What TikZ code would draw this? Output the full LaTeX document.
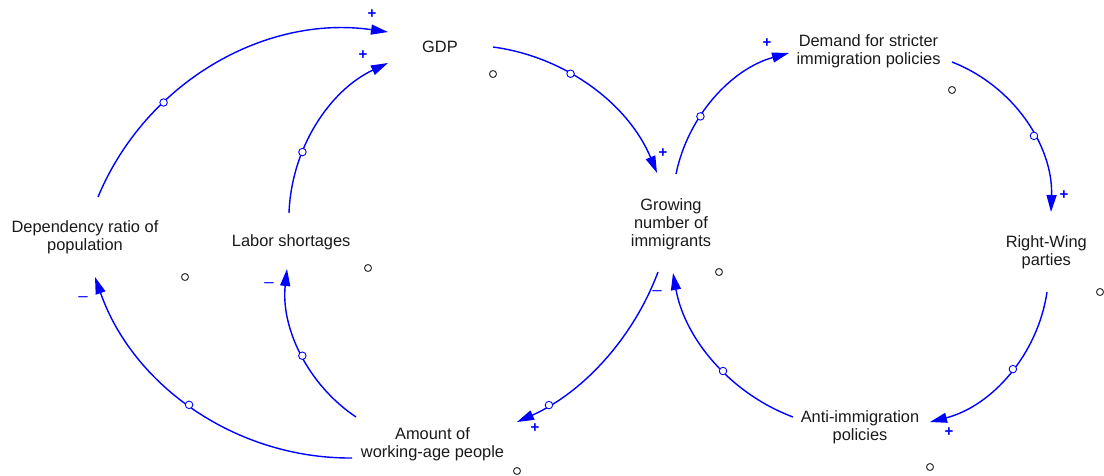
\documentclass[tikz,border=0pt]{standalone}
\usepackage{fontspec}
\setmainfont{Liberation Sans}
\usetikzlibrary{arrows.meta}
\begin{document}
\begin{tikzpicture}[x=1pt,y=-1pt,
  lbl/.style={font=\fontsize{16.4}{18}\selectfont, text=black!90, align=center, inner sep=0pt,
              execute at begin node=\strut, execute at end node=\strut},
  link/.style={draw=blue, line width=1.4pt, -{Triangle[length=17pt,width=10pt]}},
  mk/.style={circle, draw=blue, fill=white, line width=0.9pt, inner sep=0pt, minimum size=7.5pt},
  loopo/.style={circle, draw=black!80, line width=1pt, inner sep=0pt, minimum size=7pt},
  plus/.style={text=blue, font=\fontsize{15}{15}\selectfont\bfseries, inner sep=0pt},
  minus/.style={text=blue, font=\fontsize{17}{17}\selectfont, inner sep=0pt}]
\useasboundingbox (0,0) rectangle (1104,475);
\clip (0,0) rectangle (1104,475);

% variables
\node[lbl] (gdp) at (440,48.4) {GDP};
\node[lbl] (dem) at (868.5,52.4) {Demand for stricter\\immigration policies};
\node[lbl] (grw) at (671,225.4) {Growing\\number of\\immigrants};
\node[lbl] (dep) at (85,238.1) {Dependency ratio of\\population};
\node[lbl] (lab) at (291.2,242.4) {Labor shortages};
\node[lbl] (rw)  at (1046.3,253.7) {Right-Wing\\parties};
\node[lbl] (amt) at (432.5,445.4) {Amount of\\working-age people};
\node[lbl] (anti) at (860,428.7) {Anti-immigration\\policies};

% connector end points
\coordinate (dep-out) at (98,197);   \coordinate (gdp-in1) at (388,32);
\coordinate (lab-out) at (289,213);  \coordinate (gdp-in2) at (388,63);
\coordinate (amt-out1) at (352,458); \coordinate (dep-in) at (95,277);
\coordinate (amt-out2) at (356,417); \coordinate (lab-in) at (287,269);
\coordinate (gdp-out) at (493,47);   \coordinate (grw-in1) at (657,173);
\coordinate (grw-out1) at (676,174); \coordinate (dem-in) at (789,53);
\coordinate (dem-out) at (952,62);   \coordinate (rw-in) at (1051,212);
\coordinate (rw-out) at (1047,292);  \coordinate (anti-in) at (930,422);
\coordinate (anti-out) at (793,417); \coordinate (grw-in2) at (673,273);
\coordinate (grw-out2) at (658,272); \coordinate (amt-in) at (517,422);

% connectors
\draw[link] (dep-out) .. controls (145.8,82.2) and (264.9,14.4) .. (gdp-in1) node[mk,pos=0.32] (m1) {};
\draw[link] (lab-out) .. controls (291.3,148.4) and (329.5,90.4) .. (gdp-in2) node[mk,pos=0.33] (m2) {};
\draw[link] (amt-out1) .. controls (236.4,458.8) and (133.1,386.1) .. (dep-in) node[mk,pos=0.52] (m3) {};
\draw[link] (amt-out2) .. controls (307.3,384.3) and (280.7,327.4) .. (lab-in) node[mk,pos=0.48] (m4) {};
\draw[link] (gdp-out) .. controls (566.3,56.8) and (628.7,104.7) .. (grw-in1) node[mk,pos=0.38] (m5) {};
\draw[link] (grw-out1) .. controls (688.0,115.6) and (731.6,68.9) .. (dem-in) node[mk,pos=0.36] (m6) {};
\draw[link] (dem-out) .. controls (1013.5,85.9) and (1053.2,146.0) .. (rw-in) node[mk,pos=0.59] (m7) {};
\draw[link] (rw-out) .. controls (1037.7,354.9) and (991.6,406.2) .. (anti-in) node[mk,pos=0.46] (m8) {};
\draw[link] (anti-out) .. controls (730.4,393.5) and (684.8,338.9) .. (grw-in2) node[mk,pos=0.43] (m9) {};
\draw[link] (grw-out2) .. controls (633.0,338.9) and (582.2,392.9) .. (amt-in) node[mk,pos=0.83] (m10) {};

% polarity signs
\node[plus] (s1) at (372,14) {+};
\node[plus] (s2) at (363,55) {+};
\node[plus] (s3) at (663,153) {+};
\node[plus] (s4) at (767,43) {+};
\node[plus] (s5) at (1064,195) {+};
\node[plus] (s6) at (949,432) {+};
\node[plus] (s7) at (535,428) {+};
\node[minus] (s8) at (83,299) {\textendash};
\node[minus] (s9) at (269,285) {\textendash};
\node[minus] (s10) at (657,293) {\textendash};

% small loop circles
\node[loopo] (o1) at (493,74) {};
\node[loopo] (o2) at (185,277) {};
\node[loopo] (o3) at (368,268) {};
\node[loopo] (o4) at (719,272) {};
\node[loopo] (o5) at (952,90) {};
\node[loopo] (o6) at (1100,292) {};
\node[loopo] (o7) at (517,471) {};
\node[loopo] (o8) at (930,467) {};
\end{tikzpicture}
\end{document}
